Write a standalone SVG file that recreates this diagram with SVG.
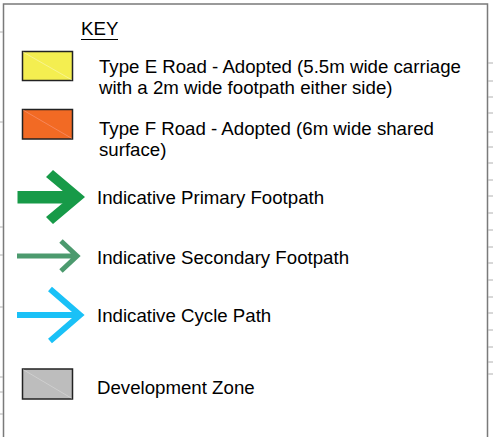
<svg xmlns="http://www.w3.org/2000/svg" width="493" height="437" viewBox="0 0 493 437">
<style>
.t{font-family:"Liberation Sans",Arial,sans-serif;font-size:18.67px;fill:#000}
.sw{stroke:#222;stroke-width:1.5}
.diag{stroke-width:0.6;opacity:0.6}
.tick{stroke:#b0b0b0;stroke-width:1}
</style>
<rect width="493" height="437" fill="#fff"/>
<g id="frame">
<path d="M3.5 437 V4 H487.5 V437" fill="none" stroke="#7a7a7a" stroke-width="1.5"/>
<g class="tick">
<path d="M0 32 H3 M0 122 H3 M0 227 H3 M0 255 H3 M0 307 H3 M0 377 H3 M0 392 H3 M0 414 H3"/>
<path d="M488 63 H493 M488 81 H493 M488 97 H493 M488 113 H493 M488 132 H493 M488 147 H493 M488 163 H493 M488 180 H493 M488 196 H493 M488 213 H493 M488 230 H493 M488 247 H493 M488 263 H493 M488 280 H493 M488 297 H493 M488 313 H493 M488 330 H493 M488 347 H493 M488 362 H493 M488 374 H493"/>
</g>
</g>
<g id="key-title">
<text class="t" x="81" y="35">KEY</text>
<line x1="81" y1="39.5" x2="118" y2="39.5" stroke="#000" stroke-width="1"/>
</g>
<g id="type-e">
<rect class="sw" x="22.5" y="51.5" width="50" height="29" fill="#f4ee50"/>
<line class="diag" x1="23" y1="52" x2="72" y2="80" stroke="#fff"/>
<text class="t" x="99" y="73">Type E Road - Adopted (5.5m wide carriage</text>
<text class="t" x="99" y="94">with a 2m wide footpath either side)</text>
</g>
<g id="type-f">
<rect class="sw" x="22.5" y="109.5" width="50" height="29.5" fill="#f26a24"/>
<line class="diag" x1="23" y1="110" x2="72" y2="138.5" stroke="#fbb"/>
<text class="t" x="99" y="135">Type F Road - Adopted (6m wide shared</text>
<text class="t" x="99" y="156">surface)</text>
</g>
<g id="primary">
<rect x="17.5" y="191" width="56" height="12.5" fill="#179a48"/>
<polygon points="53,170 85,197 53,224 46,217 70,197 46,177" fill="#179a48"/>
<text class="t" x="97" y="204">Indicative Primary Footpath</text>
</g>
<g id="secondary">
<path d="M17 256 H75 M61 241 L77 256 L61 271" fill="none" stroke="#4c9a6e" stroke-width="5"/>
<text class="t" x="97" y="264">Indicative Secondary Footpath</text>
</g>
<g id="cycle">
<path d="M17 315 H78 M50 289 L80 315 L50 341" fill="none" stroke="#1ac1f7" stroke-width="6"/>
<text class="t" x="97" y="322">Indicative Cycle Path</text>
</g>
<g id="dev-zone">
<rect class="sw" x="22.5" y="369" width="50" height="30" fill="#bdbdbd"/>
<line class="diag" x1="23" y1="369.5" x2="72" y2="398.5" stroke="#eee"/>
<text class="t" x="97" y="394">Development Zone</text>
</g>
</svg>
